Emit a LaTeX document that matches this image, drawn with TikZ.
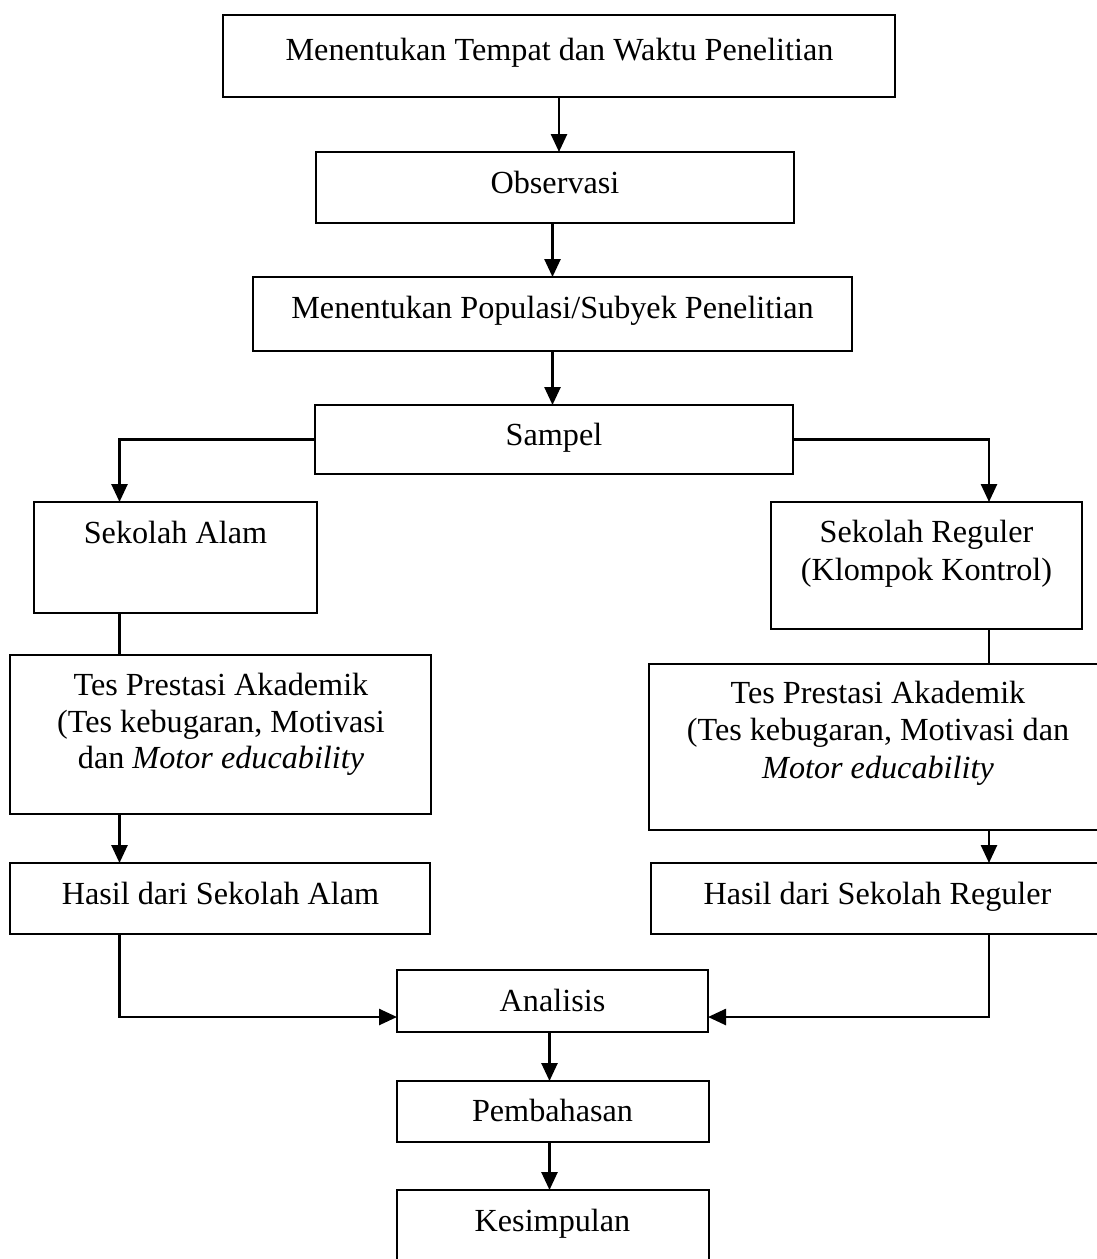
\documentclass[tikz,border=0pt]{standalone}
\usepackage{fontspec}
\setmainfont{Liberation Serif}
\usetikzlibrary{arrows.meta,calc}
\begin{document}
\begin{tikzpicture}[x=1pt,y=-1pt,
  box/.style={draw, line width=2.6pt, inner sep=0pt, outer sep=0pt, anchor=north west},
  txt/.style={inner sep=0pt, anchor=base, font=\fontsize{32.2}{38.6}\selectfont},
  arr/.style={line width=2.6pt, -{Triangle[length=18pt,width=16pt]}},
  ln/.style={line width=2.6pt}]
\clip (0,0) rectangle (1097,1259);
\path[use as bounding box] (0,0) rectangle (1097,1259);
% boxes
\node[box, minimum width=672, minimum height=82] (n1) at (223,15) {};
\node[box, minimum width=478, minimum height=71] (obs) at (316,152) {};
\node[box, minimum width=599, minimum height=74] (pop) at (253,277) {};
\node[box, minimum width=478, minimum height=69] (samp) at (315,405) {};
\node[box, minimum width=283, minimum height=111] (alam) at (34,502) {};
\node[box, minimum width=311, minimum height=127] (reg) at (771,502) {};
\node[box, minimum width=421, minimum height=159] (tesL) at (10,655) {};
\node[box, minimum width=458, minimum height=166] (tesR) at (649,664) {};
\node[box, minimum width=420, minimum height=71] (hasL) at (10,863) {};
\node[box, minimum width=454, minimum height=71] (hasR) at (651,863) {};
\node[box, minimum width=311, minimum height=62] (ana) at (397,970) {};
\node[box, minimum width=312, minimum height=61] (pem) at (397,1081) {};
\node[box, minimum width=312, minimum height=85] (kes) at (397,1190) {};
% texts
\node[txt] (t1) at (559.5,60) {Menentukan Tempat dan Waktu Penelitian};
\node[txt] (t2) at (555,193) {Observasi};
\node[txt] (t3) at (552.5,318) {Menentukan Populasi/Subyek Penelitian};
\node[txt] (t4) at (554,445) {Sampel};
\node[txt] (t5) at (175.5,543) {Sekolah Alam};
\node[txt] (t6) at (926.5,542) {Sekolah Reguler};
\node[txt] (t7) at (926.5,580) {(Klompok Kontrol)};
\node[txt] (t8) at (221,695) {Tes Prestasi Akademik};
\node[txt] (t9) at (221,732) {(Tes kebugaran, Motivasi};
\node[txt] (t10) at (221,768) {dan \textit{Motor educability}};
\node[txt] (t11) at (878,703) {Tes Prestasi Akademik};
\node[txt] (t12) at (878,740) {(Tes kebugaran, Motivasi dan};
\node[txt] (t13) at (878,778) {\textit{Motor educability}};
\node[txt] (t14) at (220.5,904) {Hasil dari Sekolah Alam};
\node[txt] (t15) at (877.5,904) {Hasil dari Sekolah Reguler};
\node[txt] (t16) at (552.5,1011) {Analisis};
\node[txt] (t17) at (552.5,1121) {Pembahasan};
\node[txt] (t18) at (552.5,1231) {Kesimpulan};
% helper coordinates
\coordinate (cL) at (119.5,0);
\coordinate (cR) at (989,0);
\coordinate (cM) at (549.5,0);
\coordinate (cA) at (0,1017);
% connectors
\draw[arr] (n1.south) -- (n1.south |- obs.north);
\draw[arr] (pop.north |- obs.south) -- (pop.north);
\draw[arr] (pop.south) -- (pop.south |- samp.north);
\draw[arr] (samp.west) -| (alam.north -| cL);
\draw[arr] (samp.east) -| (reg.north -| cR);
\draw[ln] (alam.south -| cL) -- (tesL.north -| cL);
\draw[arr] (tesL.south -| cL) -- (hasL.north -| cL);
\draw[ln] (reg.south -| cR) -- (tesR.north -| cR);
\draw[arr] (tesR.south -| cR) -- (hasR.north -| cR);
\draw[arr] (hasL.south -| cL) |- (ana.west |- cA);
\draw[arr] (hasR.south -| cR) |- (ana.east |- cA);
\draw[arr] (ana.south -| cM) -- (pem.north -| cM);
\draw[arr] (pem.south -| cM) -- (kes.north -| cM);
\end{tikzpicture}
\end{document}
